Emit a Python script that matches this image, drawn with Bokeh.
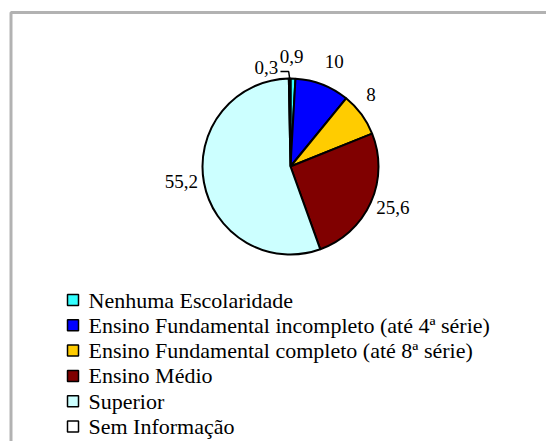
import math
from bokeh.plotting import figure
from bokeh.models import Range1d, BoxAnnotation, ColumnDataSource
from bokeh.core.properties import value
from bokeh.embed import file_html
from bokeh.resources import INLINE

# ---- data ----
categories = [
    "Nenhuma Escolaridade",
    "Ensino Fundamental incompleto (até 4ª série)",
    "Ensino Fundamental completo (até 8ª série)",
    "Ensino Médio",
    "Superior",
    "Sem Informação",
]
values = [0.9, 10, 8, 25.6, 55.2, 0.3]
value_labels = ["0,9", "10", "8", "25,6", "55,2", "0,3"]
colors = ["#33FFFF", "#0000FF", "#FFCC00", "#800000", "#CCFFFF", "#FFFFFF"]

# ---- layout (pixel-like units, origin bottom-left) ----
W, H = 546, 441
CX, CY, R = 290, 275, 88
LABEL_R = 110
label_dx = [-2, 4, -8, 2, -1, -23]
label_dy = [0, 2.5, 7, 4, 5, -11]
FONT = "Times New Roman"

p = figure(width=W, height=H, output_backend="svg", toolbar_location=None,
           x_range=Range1d(0, W), y_range=Range1d(0, H),
           x_axis_location=None, y_axis_location=None, min_border=0)
p.outline_line_color = None
p.xgrid.visible = False
p.ygrid.visible = False
p.background_fill_color = "white"
p.border_fill_color = "white"

# frame (top and left edges visible, continues beyond the view)
p.add_layout(BoxAnnotation(left=10.5, right=3000, top=429, bottom=-3000,
                           fill_alpha=0, line_color="black", line_width=3))

total = sum(values)
starts, ends, mids = [], [], []
cum = 0.0
for v in values:
    a0 = math.pi / 2 - 2 * math.pi * cum / total
    cum += v
    a1 = math.pi / 2 - 2 * math.pi * cum / total
    starts.append(a0)
    ends.append(a1)
    mids.append((a0 + a1) / 2)

src = ColumnDataSource(dict(start=starts, end=ends, color=colors, cat=categories))
p.wedge(x=CX, y=CY, radius=R, start_angle="start", end_angle="end",
        direction="clock", fill_color="color", line_color="black",
        line_width=2, source=src)

lx = [CX + LABEL_R * math.cos(m) + dx for m, dx in zip(mids, label_dx)]
ly = [CY + LABEL_R * math.sin(m) + dy for m, dy in zip(mids, label_dy)]
p.text(x=lx, y=ly, text=value_labels, text_font=value(FONT),
       text_font_size="19px", text_align="center", text_baseline="middle",
       text_color="black")

# leader line for the small "Sem Informação" slice
i = 5
ex = CX + R * math.cos(mids[i])
ey = CY + R * math.sin(mids[i])
p.line(x=[lx[i] + 14, ex - 1, ex], y=[ly[i] - 4, ly[i] - 4, ey],
       line_color="black", line_width=1.5)

# legend
n = len(categories)
STEP = 25.3
row_y = [141.5 - STEP * k for k in range(n)]
p.rect(x=[72.5] * n, y=row_y, width=11, height=11, fill_color=colors,
       line_color="black", line_width=1.5)
p.text(x=[88] * n, y=row_y, text=categories,
       text_font=value(FONT), text_font_size="22px", text_align="left",
       text_baseline="middle", text_color="black")

open("out.html", "w").write(file_html(p, INLINE))
